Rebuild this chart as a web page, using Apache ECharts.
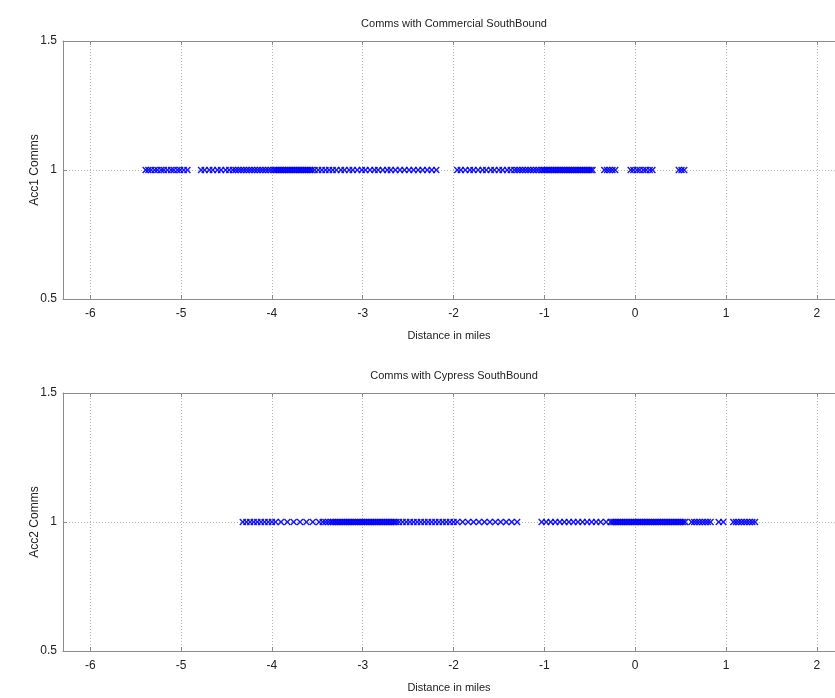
<!DOCTYPE html>
<html>
<head>
<meta charset="utf-8">
<title>Comms SouthBound</title>
<script src="https://cdn.jsdelivr.net/npm/echarts@6/dist/echarts.min.js"></script>
<style>
  html, body { margin: 0; padding: 0; background: #fff; }
  #main { width: 835px; height: 698px; }
</style>
</head>
<body>
<div id="main"></div>
<script>
// x ticks shared by both plots
var xTicks = [-6, -5, -4, -3, -2, -1, 0, 1, 2];
var yTicks = [0.5, 1, 1.5];

// Acc1 comms with Commercial, distance in miles (all at y = 1)
var acc1Dist = [
  -5.39, -5.36, -5.33, -5.29, -5.26, -5.22, -5.19, -5.15, -5.11, -5.08, -5.04, -5.01, -4.97, -4.93,
  -4.78, -4.74, -4.69, -4.65, -4.60, -4.56, -4.51, -4.47, -4.43,
  -4.40, -4.37, -4.34, -4.31, -4.28, -4.25, -4.22, -4.19, -4.16, -4.13, -4.10, -4.07, -4.04, -4.01, -3.98,
  -3.96, -3.94, -3.92, -3.90, -3.88, -3.86, -3.84, -3.82, -3.80, -3.78, -3.76, -3.74, -3.72, -3.70,
  -3.68, -3.66, -3.64, -3.62, -3.60, -3.58, -3.56,
  -3.53, -3.49, -3.45, -3.41, -3.37, -3.33, -3.29, -3.24, -3.20, -3.15, -3.11, -3.06, -3.01, -2.97,
  -2.92, -2.87, -2.83, -2.78, -2.73, -2.69, -2.64, -2.59, -2.54, -2.49, -2.44, -2.39, -2.34, -2.29,
  -2.24, -2.19,
  -1.96, -1.92, -1.87, -1.82, -1.78, -1.73, -1.68, -1.64, -1.59, -1.55, -1.50, -1.46, -1.41, -1.37,
  -1.33, -1.30, -1.27, -1.24, -1.21, -1.18, -1.15, -1.12, -1.09, -1.06, -1.03,
  -1.01, -0.99, -0.97, -0.95, -0.93, -0.91, -0.89, -0.87, -0.85, -0.83, -0.81, -0.79, -0.77, -0.75,
  -0.73, -0.71, -0.69, -0.67, -0.65, -0.63, -0.61, -0.59, -0.57, -0.55, -0.53, -0.51, -0.49, -0.47,
  -0.34, -0.31, -0.28, -0.25, -0.22,
  -0.05, -0.02, 0.02, 0.05, 0.09, 0.12, 0.16, 0.19,
  0.48, 0.51, 0.54
];

// Acc2 comms with Cypress
var acc2Dist = [
  -4.32, -4.28, -4.24, -4.20, -4.16, -4.12, -4.08, -4.04, -4.00, -3.96,
  -3.90, -3.83, -3.76, -3.69, -3.62, -3.55, -3.48,
  -3.44, -3.41, -3.38, -3.35,
  -3.33, -3.31, -3.29, -3.27, -3.25, -3.23, -3.21, -3.19, -3.17, -3.15, -3.13, -3.11, -3.09, -3.07,
  -3.05, -3.03, -3.01, -2.99, -2.97, -2.95, -2.93, -2.91, -2.89, -2.87, -2.85, -2.83, -2.81, -2.79,
  -2.77, -2.75, -2.73, -2.71, -2.69, -2.67, -2.65, -2.63,
  -2.60, -2.56, -2.52, -2.48, -2.44, -2.40, -2.36, -2.32, -2.28, -2.24, -2.20, -2.16, -2.12, -2.08,
  -2.04, -2.00, -1.96,
  -1.90, -1.84, -1.78, -1.72, -1.66, -1.60, -1.54, -1.48, -1.42, -1.36, -1.30,
  -1.03, -0.98, -0.93, -0.88, -0.83, -0.78, -0.73, -0.68, -0.63, -0.58, -0.53, -0.48, -0.43,
  -0.38, -0.32, -0.27,
  -0.25, -0.23, -0.21, -0.19, -0.17, -0.15, -0.13, -0.11, -0.09, -0.07, -0.05, -0.03, -0.01,
  0.01, 0.03, 0.05, 0.07, 0.09, 0.11, 0.13, 0.15, 0.17, 0.19, 0.21, 0.23, 0.25, 0.27, 0.29,
  0.31, 0.33, 0.35, 0.37, 0.39, 0.41, 0.43, 0.45, 0.47, 0.49, 0.51, 0.53, 0.55,
  0.62, 0.65, 0.68, 0.71, 0.74, 0.77, 0.80, 0.83,
  0.92, 0.97,
  1.08, 1.11, 1.14, 1.17, 1.20, 1.23, 1.26, 1.29, 1.32
];

var titles = ['Comms with Commercial SouthBound', 'Comms with Cypress SouthBound'];
var yNames = ['Acc1 Comms', 'Acc2 Comms'];
var xName = 'Distance in miles';

var FONT = 'Liberation Sans, Arial, sans-serif';
var TXT = '#222';
var AXIS_GREY = '#8c8c8c';
var GRID_GREY = '#b4b4b4';
// filled "x" marker like matlab
var XMARK = 'path://M0,1.5L1.5,0L5,3.5L8.5,0L10,1.5L6.5,5L10,8.5L8.5,10L5,6.5L1.5,10L0,8.5L3.5,5Z';

function toPoints(arr) {
  var res = [];
  for (var i = 0; i < arr.length; i++) {
    res.push([arr[i], 1]);
  }
  return res;
}

var grids = [
  { left: 63, top: 41, width: 773, height: 258 },
  { left: 63, top: 393, width: 773, height: 258 }
];

var xAxes = [], yAxes = [], series = [], titleOpts = [];
var dataSets = [acc1Dist, acc2Dist];

for (var g = 0; g < 2; g++) {
  titleOpts.push({
    text: titles[g],
    left: 449,
    top: grids[g].top - 28,
    textAlign: 'center',
    textStyle: { fontFamily: FONT, fontSize: 11, fontWeight: 'normal', color: TXT }
  });
  // bottom axis with labels
  xAxes.push({
    gridIndex: g,
    type: 'value',
    min: -6.3,
    max: 2.2,
    name: xName,
    nameLocation: 'middle',
    nameGap: 31,
    nameTextStyle: { fontFamily: FONT, fontSize: 11, color: TXT },
    axisLine: { show: true, onZero: false, lineStyle: { color: AXIS_GREY, width: 1 } },
    axisTick: { show: true, inside: true, length: 4, customValues: xTicks, lineStyle: { color: AXIS_GREY } },
    axisLabel: {
      fontFamily: FONT, fontSize: 12, color: TXT, margin: 9,
      customValues: xTicks,
      formatter: function (v) { return String(v); }
    },
    splitLine: { show: false }
  });
  // top axis: box edge + ticks
  xAxes.push({
    gridIndex: g,
    type: 'value',
    position: 'top',
    min: -6.3,
    max: 2.2,
    axisLine: { show: true, onZero: false, lineStyle: { color: AXIS_GREY, width: 1 } },
    axisTick: { show: true, inside: true, length: 4, customValues: xTicks, lineStyle: { color: AXIS_GREY } },
    axisLabel: { show: false },
    splitLine: { show: false }
  });
  yAxes.push({
    gridIndex: g,
    type: 'value',
    min: 0.5,
    max: 1.5,
    interval: 0.5,
    name: yNames[g],
    nameLocation: 'middle',
    nameGap: 22,
    nameMoveOverlap: false,
    nameTextStyle: { fontFamily: FONT, fontSize: 12, color: TXT },
    axisLine: { show: true, onZero: false, lineStyle: { color: AXIS_GREY, width: 1 } },
    axisTick: { show: true, inside: true, length: 4, lineStyle: { color: AXIS_GREY } },
    axisLabel: {
      fontFamily: FONT, fontSize: 12, color: TXT, margin: 6,
      formatter: function (v) { return String(v); }
    },
    splitLine: { show: true, lineStyle: { color: GRID_GREY, type: [1, 2], width: 1 } }
  });
  // vertical dotted grid lines at the x ticks
  var vLines = [];
  for (var k = 0; k < xTicks.length; k++) {
    vLines.push({ xAxis: xTicks[k] });
  }
  series.push({
    type: 'scatter',
    xAxisIndex: g * 2,
    yAxisIndex: g,
    symbol: XMARK,
    symbolSize: 7,
    itemStyle: { color: '#0000ff', opacity: 0.9 },
    data: toPoints(dataSets[g]),
    silent: true,
    markLine: {
      silent: true,
      symbol: 'none',
      label: { show: false },
      lineStyle: { color: GRID_GREY, type: [1, 2], width: 1 },
      data: vLines,
      z: 0
    },
    z: 3
  });
}

var myChart = echarts.init(document.getElementById('main'));
myChart.setOption({
  backgroundColor: '#fff',
  animation: false,
  title: titleOpts,
  grid: grids,
  xAxis: xAxes,
  yAxis: yAxes,
  series: series
});
</script>
</body>
</html>
